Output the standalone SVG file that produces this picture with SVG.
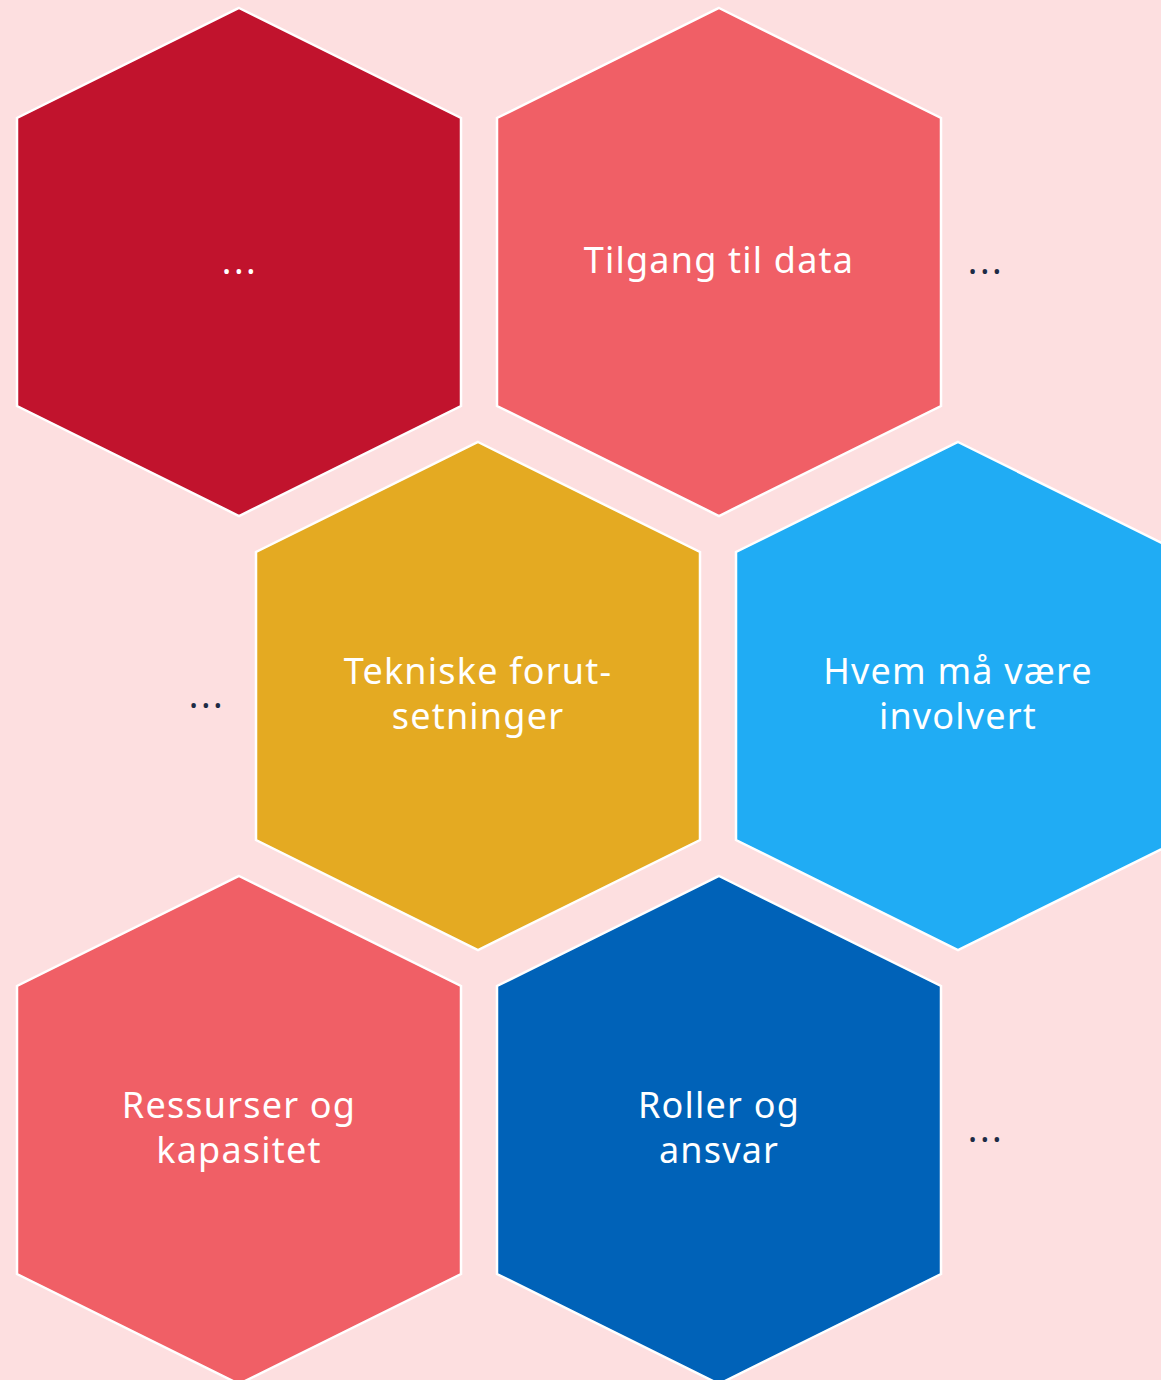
<svg xmlns="http://www.w3.org/2000/svg" width="1161" height="1380" viewBox="0 0 1161 1380">
<style>
.hex{stroke:#ffffff;stroke-width:2.5;stroke-linejoin:miter}
.t{font-family:"Noto Sans","Open Sans",sans-serif;font-size:36px;fill:#ffffff;text-anchor:middle;letter-spacing:1.2px}
.d{font-family:"Noto Sans","Open Sans",sans-serif;font-size:36px;fill:#1d2b45;text-anchor:middle;letter-spacing:2.5px}
.w{font-family:"Noto Sans","Open Sans",sans-serif;font-size:36px;fill:#ffffff;text-anchor:middle;letter-spacing:2.5px}
</style>
<defs>
<polygon id="hx" points="0,-254 222,-144 222,144 0,254 -222,144 -222,-144"/>
</defs>
<rect width="1161" height="1380" fill="#fddfe0"/>
<g id="n1"><use href="#hx" x="239" y="262" class="hex" fill="#c1132d"/><text class="w" x="240" y="274">...</text></g>
<g id="n2"><use href="#hx" x="719" y="262" class="hex" fill="#f05f66"/><text class="t" x="719" y="273">Tilgang til data</text></g>
<g id="n3"><use href="#hx" x="478" y="696" class="hex" fill="#e4aa22"/><text class="t" x="478" y="684">Tekniske forut-</text><text class="t" x="478" y="729">setninger</text></g>
<g id="n4"><use href="#hx" x="958" y="696" class="hex" fill="#20acf4"/><text class="t" x="958" y="684">Hvem må være</text><text class="t" x="958" y="729">involvert</text></g>
<g id="n5"><use href="#hx" x="239" y="1130" class="hex" fill="#f05f66"/><text class="t" x="239" y="1118">Ressurser og</text><text class="t" x="239" y="1163">kapasitet</text></g>
<g id="n6"><use href="#hx" x="719" y="1130" class="hex" fill="#0062b8"/><text class="t" x="719" y="1118">Roller og</text><text class="t" x="719" y="1163">ansvar</text></g>
<g id="dots"><text class="d" x="986" y="274">...</text><text class="d" x="207" y="708">...</text><text class="d" x="986" y="1142">...</text></g>
<g id="connectors"/>
</svg>
